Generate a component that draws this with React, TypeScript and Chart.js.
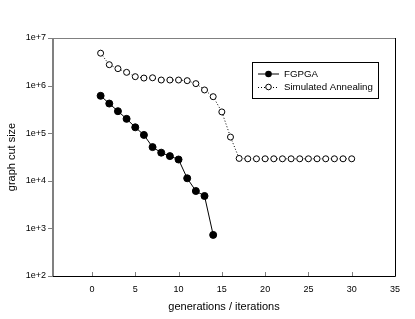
import React, { useEffect, useRef } from "react";
import { Chart, registerables } from "chart.js";

Chart.register(...registerables);

const fgpgaX = [1, 2, 3, 4, 5, 6, 7, 8, 9, 10, 11, 12, 13, 14];
const fgpgaY = [610000, 420000, 290000, 200000, 133000, 92000, 51000, 39000, 33000, 28000, 11300, 6100, 4800, 730];

const saX = [1, 2, 3, 4, 5, 6, 7, 8, 9, 10, 11, 12, 13, 14, 15, 16, 17, 18, 19, 20, 21, 22, 23, 24, 25, 26, 27, 28, 29, 30];
const saY = [4800000, 2750000, 2270000, 1900000, 1540000, 1440000, 1460000, 1310000, 1310000, 1310000, 1270000, 1100000, 810000, 585000, 280000, 83000, 29500, 29000, 29000, 29000, 29000, 29000, 29000, 29000, 29000, 29000, 29000, 29000, 29000, 29000];

const xTicks = [0, 5, 10, 15, 20, 25, 30, 35];
const yExponents = [2, 3, 4, 5, 6, 7];

const seriesNames = ["FGPGA", "Simulated Annealing"];
const xTitle = "generations / iterations";
const yTitle = "graph cut size";

const FONT = "'Liberation Sans', Arial, sans-serif";

const framePlugin = {
  id: "frame",
  afterDraw(chart: any) {
    const { ctx, chartArea } = chart;
    const { left, right, top, bottom } = chartArea;
    const xs = chart.scales.x;
    const ys = chart.scales.y;
    ctx.save();
    // ticks
    ctx.strokeStyle = "#808080";
    ctx.lineWidth = 1;
    xTicks.forEach((v) => {
      const px = Math.round(xs.getPixelForValue(v)) + 0.5;
      ctx.beginPath();
      ctx.moveTo(px, bottom);
      ctx.lineTo(px, bottom - 4);
      ctx.stroke();
    });
    yExponents.forEach((e) => {
      const py = Math.round(ys.getPixelForValue(Math.pow(10, e))) + 0.5;
      ctx.beginPath();
      ctx.moveTo(left, py);
      ctx.lineTo(left - 5, py);
      ctx.stroke();
    });
    // top border gray
    ctx.beginPath();
    ctx.moveTo(left, Math.round(top) + 0.5);
    ctx.lineTo(right, Math.round(top) + 0.5);
    ctx.stroke();
    // left axis gray thicker
    ctx.lineWidth = 2;
    ctx.beginPath();
    ctx.moveTo(Math.round(left), top);
    ctx.lineTo(Math.round(left), bottom + 1);
    ctx.stroke();
    // bottom and right black
    ctx.strokeStyle = "#000";
    ctx.lineWidth = 1;
    ctx.beginPath();
    ctx.moveTo(left, Math.round(bottom) + 0.5);
    ctx.lineTo(Math.round(right) + 0.5, Math.round(bottom) + 0.5);
    ctx.lineTo(Math.round(right) + 0.5, top);
    ctx.stroke();

    // axis titles
    ctx.fillStyle = "#000";
    ctx.font = `11px ${FONT}`;
    ctx.textAlign = "center";
    ctx.textBaseline = "middle";
    ctx.fillText(xTitle, (left + right) / 2, 307);
    ctx.save();
    ctx.translate(12, (top + bottom) / 2);
    ctx.rotate(-Math.PI / 2);
    ctx.fillText(yTitle, 0, 0);
    ctx.restore();

    // legend
    const lx = 252, ly = 62, lw = 126, lh = 36;
    ctx.fillStyle = "#fff";
    ctx.fillRect(lx, ly, lw, lh);
    ctx.strokeStyle = "#000";
    ctx.lineWidth = 1;
    ctx.strokeRect(lx + 0.5, ly + 0.5, lw, lh);
    const rows = [ly + 12, ly + 25];
    // row 1
    ctx.beginPath();
    ctx.moveTo(258, rows[0]);
    ctx.lineTo(279, rows[0]);
    ctx.stroke();
    ctx.fillStyle = "#000";
    ctx.beginPath();
    ctx.arc(268.5, rows[0], 3.3, 0, Math.PI * 2);
    ctx.fill();
    // row 2
    ctx.setLineDash([1, 2]);
    ctx.beginPath();
    ctx.moveTo(258, rows[1] + 0.5);
    ctx.lineTo(279, rows[1] + 0.5);
    ctx.stroke();
    ctx.setLineDash([]);
    ctx.fillStyle = "#fff";
    ctx.beginPath();
    ctx.arc(268.5, rows[1], 2.8, 0, Math.PI * 2);
    ctx.fill();
    ctx.stroke();
    ctx.fillStyle = "#000";
    ctx.font = `9.7px ${FONT}`;
    ctx.textAlign = "left";
    ctx.textBaseline = "middle";
    ctx.fillText(seriesNames[0], 284, rows[0] + 0.5);
    ctx.fillText(seriesNames[1], 284, rows[1] + 0.5);
    ctx.restore();
  },
};

export default function App() {
  const ref = useRef<HTMLCanvasElement | null>(null);
  useEffect(() => {
    if (!ref.current) return;
    const chart = new Chart(ref.current, {
      type: "line",
      data: {
        datasets: [
          {
            label: seriesNames[1],
            data: saX.map((x, i) => ({ x, y: saY[i] })),
            borderColor: "#000",
            borderWidth: 1,
            borderDash: [1, 2],
            pointRadius: 3,
            pointBackgroundColor: "#fff",
            pointBorderColor: "#000",
            pointBorderWidth: 1,
            tension: 0,
          },
          {
            label: seriesNames[0],
            data: fgpgaX.map((x, i) => ({ x, y: fgpgaY[i] })),
            borderColor: "#000",
            borderWidth: 1,
            pointRadius: 3.5,
            pointBackgroundColor: "#000",
            pointBorderColor: "#000",
            pointBorderWidth: 1,
            tension: 0,
          },
        ],
      },
      options: {
        animation: false,
        responsive: false,
        maintainAspectRatio: false,
        layout: { padding: { left: 0, top: 38, right: 20, bottom: 0 } },
        plugins: { legend: { display: false }, tooltip: { enabled: false } },
        scales: {
          x: {
            type: "linear",
            min: -4.5,
            max: 35,
            grid: { display: false, drawTicks: false },
            border: { display: false },
            afterBuildTicks: (s: any) => {
              s.ticks = xTicks.map((v) => ({ value: v }));
            },
            afterFit: (s: any) => {
              s.height = 43;
            },
            ticks: {
              padding: 8,
              color: "#000",
              font: { family: FONT, size: 9 },
              maxRotation: 0,
              autoSkip: false,
            },
          },
          y: {
            type: "logarithmic",
            min: 100,
            max: 10000000,
            grid: { display: false, drawTicks: false },
            border: { display: false },
            afterBuildTicks: (s: any) => {
              s.ticks = yExponents.map((e) => ({ value: Math.pow(10, e) }));
            },
            afterFit: (s: any) => {
              s.width = 53;
            },
            ticks: {
              padding: 7,
              color: "#000",
              font: { family: FONT, size: 9 },
              autoSkip: false,
              callback: (v: any) => "1e+" + Math.round(Math.log10(Number(v))),
            },
          },
        },
      },
      plugins: [framePlugin],
    });
    return () => chart.destroy();
  }, []);
  return (
    <div style={{ position: "fixed", left: 0, top: 0, width: 415, height: 319, background: "#fff" }}>
      <canvas ref={ref} width={415} height={319} style={{ display: "block" }} />
    </div>
  );
}
